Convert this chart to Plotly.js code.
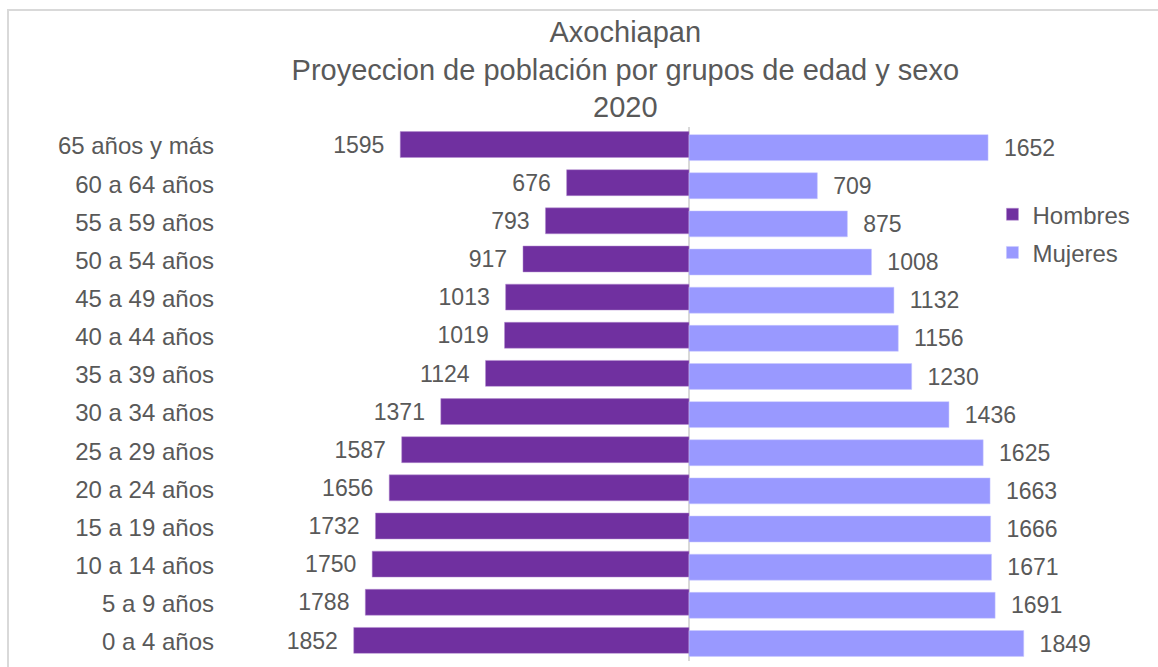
<!DOCTYPE html>
<html>
<head>
<meta charset="utf-8">
<script src="https://cdn.plot.ly/plotly-3.0.1.min.js"></script>
<style>
  html, body { margin: 0; padding: 0; background: #fff; }
  #wrap { position: relative; width: 1158px; height: 667px; overflow: hidden; }
  #chart { position: absolute; left: 0; top: 0; width: 1158px; height: 667px; }
  #frame { position: absolute; left: 7px; top: 9px; width: 1200px; height: 700px;
           border-top: 2px solid #d9d9d9; border-left: 2px solid #d9d9d9; pointer-events: none; }
</style>
</head>
<body>
<div id="wrap">
  <div id="chart"></div>
  <div id="frame"></div>
</div>
<script>
// grupos de edad, de abajo hacia arriba
const grupos = ['0 a 4 años', '5 a 9 años', '10 a 14 años', '15 a 19 años', '20 a 24 años',
  '25 a 29 años', '30 a 34 años', '35 a 39 años', '40 a 44 años', '45 a 49 años',
  '50 a 54 años', '55 a 59 años', '60 a 64 años', '65 años y más'];
const hombres = [1852, 1788, 1750, 1732, 1656, 1587, 1371, 1124, 1019, 1013, 917, 793, 676, 1595];
const mujeres = [1849, 1691, 1671, 1666, 1663, 1625, 1436, 1230, 1156, 1132, 1008, 875, 709, 1652];

const gris = '#595959';
const fuente = 'Liberation Sans, Arial, sans-serif';
const pad = '\u00a0\u00a0';

const trazas = [
  {
    type: 'bar', orientation: 'h', name: 'Hombres', legendgroup: 'h',
    y: grupos, x: hombres.map(v => -v),
    text: hombres.map(v => v + pad), textposition: 'outside',
    textfont: {color: gris, size: 24, family: fuente},
    width: 0.68, offset: -0.30,
    marker: {color: '#7030a0', line: {color: '#b48fd0', width: 0.5}},
    cliponaxis: false, hoverinfo: 'skip'
  },
  {
    type: 'bar', orientation: 'h', name: 'Mujeres', legendgroup: 'm',
    y: grupos, x: mujeres,
    text: mujeres.map(v => pad + v), textposition: 'outside',
    textfont: {color: gris, size: 24, family: fuente},
    width: 0.68, offset: -0.38,
    marker: {color: '#9999ff', line: {color: '#c8c8ff', width: 0.5}},
    cliponaxis: false, hoverinfo: 'skip'
  }
];

const layout = {
  width: 1158, height: 667,
  margin: {l: 225, r: 5, t: 127, b: 6},
  paper_bgcolor: 'rgba(0,0,0,0)', plot_bgcolor: 'rgba(0,0,0,0)',
  font: {family: fuente, color: gris, size: 24},
  barmode: 'overlay',
  title: {
    text: 'Axochiapan<br>Proyeccion de población por grupos de edad y sexo<br>2020',
    font: {size: 29, color: gris, family: fuente},
    x: 0.54, xanchor: 'center', y: 0.937, yanchor: 'top'
  },
  xaxis: {
    range: [-2563, 2563], showticklabels: false, showgrid: false,
    zeroline: true, zerolinecolor: '#d9d9d9', zerolinewidth: 2, fixedrange: true
  },
  yaxis: {
    categoryorder: 'array', categoryarray: grupos, range: [-0.5, 13.5],
    showgrid: false, zeroline: false, ticks: '', ticklabelstandoff: 10,
    tickfont: {size: 24, color: gris, family: fuente}, fixedrange: true
  },
  showlegend: true,
  legend: {
    x: 0.827, xanchor: 'left', y: 0.878, yanchor: 'top',
    traceorder: 'grouped', tracegroupgap: 4, itemwidth: 30,
    font: {size: 24, color: gris, family: fuente}, bgcolor: 'rgba(0,0,0,0)'
  }
};

Plotly.newPlot('chart', trazas, layout, {displayModeBar: false, staticPlot: true});
</script>
</body>
</html>
